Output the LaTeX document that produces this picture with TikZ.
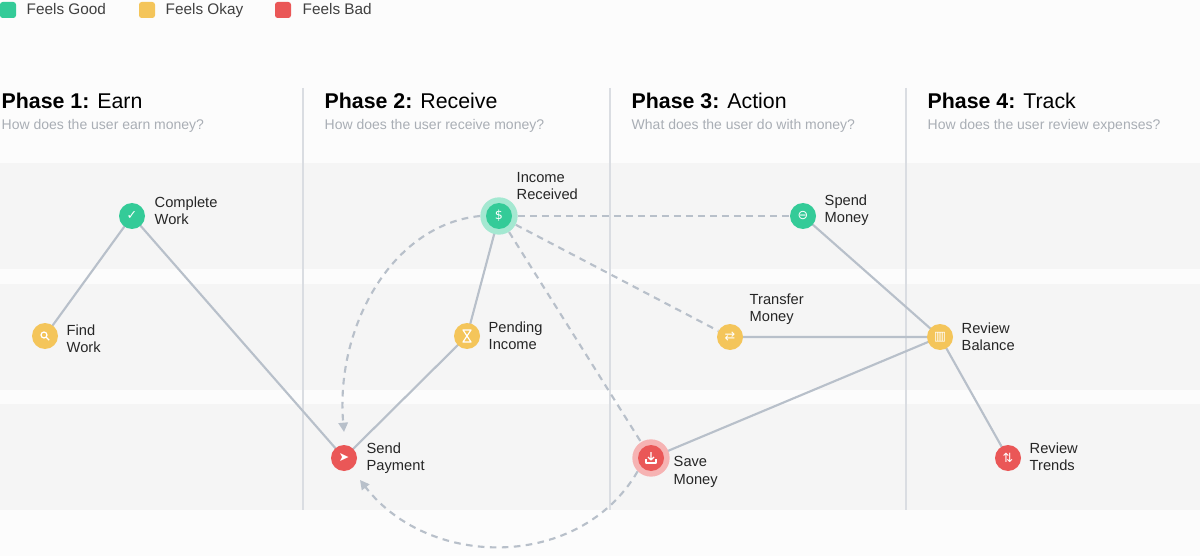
\documentclass[tikz,border=0pt]{standalone}
\usepackage{fontspec}
\setmainfont{Liberation Sans}
\newfontfamily\sym{DejaVu Sans}
\usetikzlibrary{arrows.meta}
\definecolor{good}{HTML}{34CB98}
\definecolor{okay}{HTML}{F4C55A}
\definecolor{bad}{HTML}{EA5757}
\definecolor{band}{HTML}{F5F5F5}
\definecolor{edge}{HTML}{B8C0CA}
\definecolor{sub}{HTML}{A9AEB5}
\definecolor{sep}{HTML}{DADDE2}
\tikzset{
 x=0.75pt,y=-0.75pt,
 dot/.style={circle,minimum size=19.5pt,inner sep=0pt,text=white,font=\sym\fontsize{9.5}{9.5}\selectfont},
 halo/.style={circle,minimum size=28pt,inner sep=0pt},
 lbl/.style={anchor=west,align=left,font=\fontsize{11}{13}\selectfont,text=black!85},
 solidedge/.style={draw=edge,line width=1.6pt},
 dashedge/.style={draw=edge,line width=1.6pt,dash pattern=on 5pt off 4pt},
 title/.style={anchor=west,font=\fontsize{16}{18}\selectfont},
 subt/.style={anchor=west,text=sub,font=\fontsize{10.5}{12}\selectfont},
 leg/.style={anchor=base west,font=\fontsize{11.5}{13}\selectfont,text=black!75},
 ico/.style={draw=white,line width=0.9pt,line join=round}
}
\begin{document}
\begin{tikzpicture}
\useasboundingbox[fill=white!99!black] (0,0) rectangle (1200,556);
\fill[band] (0,163) rectangle (1200,269);
\fill[band] (0,284) rectangle (1200,390);
\fill[band] (0,404) rectangle (1200,510);
\foreach \x in {303,610,906} \draw[sep,line width=0.8pt] (\x,88) -- (\x,510);
% legend
\fill[good,rounded corners=2pt] (0,2) rectangle (16,18);
\node[leg] (lg) at (22,15) {Feels Good};
\fill[okay,rounded corners=2pt] (139,2) rectangle (155,18);
\node[leg] (lo) at (161,15) {Feels Okay};
\fill[bad,rounded corners=2pt] (275,2) rectangle (291,18);
\node[leg] (lb) at (298,15) {Feels Bad};
% titles
\node[title] (t1) at (-3,101) {\textbf{Phase 1:} Earn};
\node[subt] (s1) at (-3,126) {How does the user earn money?};
\node[title] (t2) at (320,101) {\textbf{Phase 2:} Receive};
\node[subt] (s2) at (320,126) {How does the user receive money?};
\node[title] (t3) at (627,101) {\textbf{Phase 3:} Action};
\node[subt] (s3) at (627,126) {What does the user do with money?};
\node[title] (t4) at (923,101) {\textbf{Phase 4:} Track};
\node[subt] (s4) at (923,126) {How does the user review expenses?};
% edges
\path[solidedge] (45,336) -- (132,216) -- (344,458) -- (467,336) -- (499,216);
\path[solidedge] (803,216) -- (940,337) -- (730,337);
\path[solidedge] (651,458) -- (940,337) -- (1008,458);
% halos
\node[halo,fill=good!45] (hIR) at (499,216) {};
\node[halo,fill=bad!45] (hSM) at (651,458) {};
% nodes
\node[dot,fill=good] (CW) at (132,216) {✓};
\node[dot,fill=okay] (FW) at (45,336) {};
\draw[ico] ([shift={(-1,-1)}]FW.center) circle[radius=3];
\draw[ico] ([shift={(1.2,1.2)}]FW.center) -- ++(3,3);
\node[dot,fill=bad] (SP) at (344,458) {➤};
\node[dot,fill=okay] (PI) at (467,336) {};
\draw[ico] ([shift={(-4,-6)}]PI.center) -- ++(8,0) -- ++(-8,12) -- ++(8,0) -- cycle;
\node[dot,fill=good] (IR) at (499,216) {\$};
\node[dot,fill=good] (SMo) at (803,216) {⊖};
\node[dot,fill=okay] (TM) at (730,337) {⇄};
\node[dot,fill=okay] (RB) at (940,337) {▥};
\node[dot,fill=bad] (SM) at (651,458) {};
\draw[ico] ([shift={(-5,1)}]SM.center) -- ++(0,4) -- ++(10,0) -- ++(0,-4);
\draw[ico] ([shift={(0,-6)}]SM.center) -- ++(0,8) ([shift={(-3,-1)}]SM.center) -- ++(3,3) -- ++(3,-3);
\node[dot,fill=bad] (RT) at (1008,458) {⇅};
% labels
\node[lbl] (lCW) at (150,211) {Complete\\Work};
\node[lbl] (lFW) at (62,339) {Find\\Work};
\node[lbl] (lSP) at (362,458) {Send\\Payment};
\node[lbl] (lPI) at (484,336) {Pending\\Income};
\node[lbl] (lIR) at (512,186) {Income\\Received};
\node[lbl] (lSMo) at (820,210) {Spend\\Money};
\node[lbl] (lTM) at (745,309) {Transfer\\Money};
\node[lbl] (lRB) at (957,337) {Review\\Balance};
\node[lbl] (lSM) at (669,472) {Save\\Money};
\node[lbl] (lRT) at (1025,457) {Review\\Trends};
\path[dashedge] (hIR) -- (SMo);
\path[dashedge] (hIR) -- (TM);
\path[dashedge] (hIR) -- (hSM);
\path[dashedge,-{Triangle[length=7pt,width=7pt]}] (hIR.west) .. controls (390,225) and (335,330) .. (344,432);
\path[dashedge,-{Triangle[length=7pt,width=7pt]}] (hSM.south west) .. controls (580,570) and (430,570) .. (360,480);
\end{tikzpicture}
\end{document}
